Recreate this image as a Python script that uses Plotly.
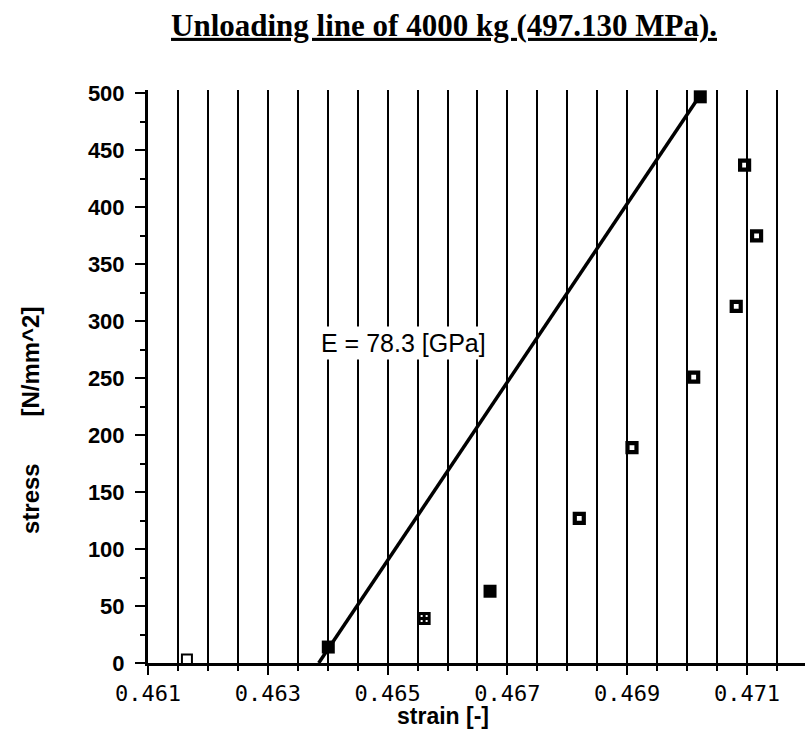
import plotly.graph_objects as go

# ---- data ----
strain = [0.46165, 0.46401, 0.46561, 0.46671, 0.46820, 0.46908,
          0.47011, 0.47082, 0.47116, 0.47096, 0.47022]
stress = [3, 14, 39, 63, 127, 189, 251, 313, 375, 437, 497]
kind = ["flat", "filled", "cross", "filled", "open", "open",
        "open", "open", "open", "open", "filled"]

fit_strain = [0.46385, 0.47020]
fit_stress = [0, 497.13]

x_tick_vals = [0.461, 0.463, 0.465, 0.467, 0.469, 0.471]
y_tick_vals = [0, 50, 100, 150, 200, 250, 300, 350, 400, 450, 500]

title_text = "Unloading line of 4000 kg (497.130 MPa)."
x_title = "strain [-]"
y_title = "stress" + "\u00a0" * 7 + "[N/mm^2]"
e_label = "E = 78.3 [GPa]"
e_pos = (0.46527, 281)

styles = {
    "filled": dict(symbol="square", size=13, color="black", line=dict(width=0)),
    "cross": dict(symbol="square-cross-open", size=10, color="black", line=dict(width=3)),
    "open": dict(symbol="square-open", size=9, color="black", line=dict(width=4.2)),
    "flat": dict(symbol="square-open", size=10, color="black", line=dict(width=2)),
}

fig = go.Figure()

fig.add_trace(go.Scatter(x=fit_strain, y=fit_stress, mode="lines",
                         line=dict(color="black", width=3.5), showlegend=False,
                         hoverinfo="skip"))

for k, st in styles.items():
    xs = [s for s, kk in zip(strain, kind) if kk == k]
    ys = [v for v, kk in zip(stress, kind) if kk == k]
    fig.add_trace(go.Scatter(x=xs, y=ys, mode="markers", marker=st,
                             showlegend=False, cliponaxis=(k == "flat")))

W, H = 805, 743
L, R, T, B = 148, 0, 90, 80
pw, ph = W - L - R, H - T - B
x0 = 0.461
x1 = x0 + pw / 59900.0


def px_x(p):
    return (p - L) / pw


def px_y(p):
    return (H - B - p) / ph


fig.update_layout(
    width=W, height=H,
    margin=dict(l=L, r=R, t=T, b=B),
    paper_bgcolor="white", plot_bgcolor="white",
    title=dict(text="<b><u>" + title_text + "</u></b>",
               font=dict(family="Liberation Serif", size=31, color="black"),
               xref="paper", x=px_x(444), xanchor="center",
               yref="container", y=1 - 25 / H, yanchor="middle"),
    xaxis=dict(range=[x0, x1], tickmode="array", tickvals=x_tick_vals,
               tickformat=".3f",
               ticks="outside", ticklen=9, tickwidth=2, tickcolor="black",
               showline=True, linecolor="black", linewidth=2.5,
               showgrid=True, gridcolor="black", gridwidth=1.8,
               zeroline=False,
               minor=dict(dtick=0.0005, tick0=0.461, ticks="outside", ticklen=5,
                          tickwidth=2, tickcolor="black", showgrid=True,
                          gridcolor="black", gridwidth=1.8),
               tickfont=dict(family="DejaVu Sans Mono", size=22, color="black"),
               ticklabelstandoff=0),
    yaxis=dict(range=[0, 503], tickmode="array", tickvals=y_tick_vals,
               ticks="outside", ticklen=10, tickwidth=2, tickcolor="black",
               showline=True, linecolor="black", linewidth=3,
               showgrid=False, zeroline=False,
               minor=dict(dtick=25, tick0=0, ticks="outside", ticklen=5,
                          tickwidth=2, tickcolor="black", showgrid=False),
               tickfont=dict(family="Liberation Sans", size=22, color="black",
                             weight="bold"),
               ticklabelstandoff=6),
    annotations=[
        dict(text=e_label, x=e_pos[0], y=e_pos[1], xref="x", yref="y",
             showarrow=False, xanchor="center", yanchor="middle",
             bgcolor="white", borderpad=2,
             font=dict(family="Liberation Sans", size=25, color="black")),
        dict(text="<b>" + y_title + "</b>", x=px_x(30), y=px_y(421),
             xref="paper", yref="paper", showarrow=False, textangle=-90,
             xanchor="center", yanchor="middle",
             font=dict(family="Liberation Sans", size=24, color="black")),
        dict(text="<b>" + x_title + "</b>", x=px_x(395), y=px_y(716),
             xref="paper", yref="paper", showarrow=False,
             xanchor="left", yanchor="middle",
             font=dict(family="Liberation Sans", size=23, color="black")),
    ],
)

fig.write_html("out.html")
